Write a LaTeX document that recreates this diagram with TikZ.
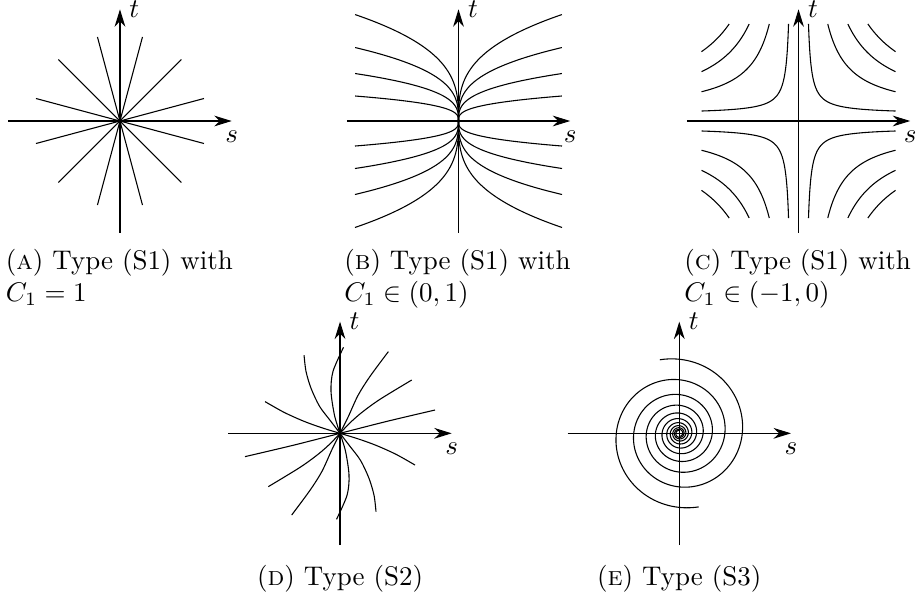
\documentclass[tikz,border=0pt]{standalone}
\usepackage{amsmath,amssymb}
\usepackage{tikz}
\usetikzlibrary{arrows.meta}
\tikzset{
  axis/.style={-{Stealth[length=6.5pt,width=4pt]}},
  orbit/.style={line width=0.4pt},
  caption/.style={inner sep=0pt, align=left, anchor=base west}
}
\newcommand{\drawaxes}[1]{%
  \draw[axis] (-1.5,0) -- (1.5,0) node[below] (#1s) {$s$};
  \draw[axis] (0,-1.5) -- (0,1.5) node[right] (#1t) {$t$};}

\begin{document}
\begin{tikzpicture}[x=0.97cm, y=0.97cm]
		\useasboundingbox (0,0) rectangle (12.314,8.044);
		\coordinate (A) at (1.611,6.419);
		\coordinate (B) at (6.157,6.419);
		\coordinate (C) at (10.723,6.419);
		\coordinate (D) at (4.566,2.225);
		\coordinate (E) at (9.122,2.225);
		\begin{scope}[shift={(A)}]
			\drawaxes{A}
			\foreach \a in {15,45,...,165} \draw[orbit] (\a:1.168) -- (\a+180:1.168);
		\end{scope}
		\begin{scope}[shift={(B)}]
			\drawaxes{B}
			\foreach \c in {0.336,0.638,0.987,1.430} {
				\draw[orbit] plot[domain=-1:1, samples=61, smooth, variable=\u] ({1.39*\u*\u*\u}, {\c*\u});
				\draw[orbit] plot[domain=-1:1, samples=61, smooth, variable=\u] ({-1.39*\u*\u*\u}, {\c*\u});
			}
		\end{scope}
		\begin{scope}[shift={(C)}]
			\drawaxes{C}
			\foreach \sx/\sy in {1/1,-1/1,1/-1,-1/-1}
				\foreach \b/\U in {0.220/1.704, 0.601/0.699, 0.829/0.377, 1.006/0.184}
					\draw[orbit, xscale=\sx, yscale=\sy] plot[domain=-\U:\U, samples=40, smooth, variable=\u]
						({0.094+\b*exp(\u)}, {0.094+\b*exp(-\u)});
		\end{scope}
		\begin{scope}[shift={(D)}]
			\drawaxes{D}
			\foreach \r in {0,180} {
				\begin{scope}[rotate=\r]
					\draw[orbit] plot[smooth] coordinates {(0,0) (0.631,0.161) (1.276,0.313)};
					\draw[orbit] plot[smooth] coordinates {(0,0) (0.134,0.141) (0.295,0.282) (0.537,0.457) (0.963,0.716)};
					\draw[orbit] plot[smooth] coordinates {(0,0) (0.107,0.215) (0.242,0.510) (0.403,0.765) (0.649,1.097)};
					\draw[orbit] plot[smooth] coordinates {(0,0) (-0.074,0.242) (-0.121,0.564) (-0.094,0.833) (0.047,1.155)};
					\draw[orbit] plot[smooth] coordinates {(0,0) (-0.134,0.175) (-0.275,0.363) (-0.389,0.604) (-0.457,0.833) (-0.483,1.051)};
					\draw[orbit] plot[smooth] coordinates {(0,0) (-0.242,0.074) (-0.483,0.161) (-0.752,0.282) (-1.007,0.426)};
				\end{scope}
			}
		\end{scope}
		\begin{scope}[shift={(E)}]
			\drawaxes{E}
			\foreach \r in {0,180}
				\draw[orbit, rotate=\r] plot[domain=-1700:104.8, samples=600, smooth, variable=\a]
					({0.846*exp(0.0018064*\a)*cos(\a)}, {0.846*exp(0.0018064*\a)*sin(\a)});
		\end{scope}
		\node[caption] (capA) at (0.071,3.992) {(\textsc{a}) Type (S1) with\\ $C_1=1$};
		\node[caption] (capB) at (4.617,3.992) {(\textsc{b}) Type (S1) with\\ $C_1\in(0,1)$};
		\node[caption] (capC) at (9.183,3.992) {(\textsc{c}) Type (S1) with\\ $C_1\in(-1,0)$};
		\node[caption, anchor=base] (capD) at (4.566,0.188) {(\textsc{d}) Type (S2)};
		\node[caption, anchor=base] (capE) at (9.122,0.188) {(\textsc{e}) Type (S3)};
	\end{tikzpicture}
\end{document}
